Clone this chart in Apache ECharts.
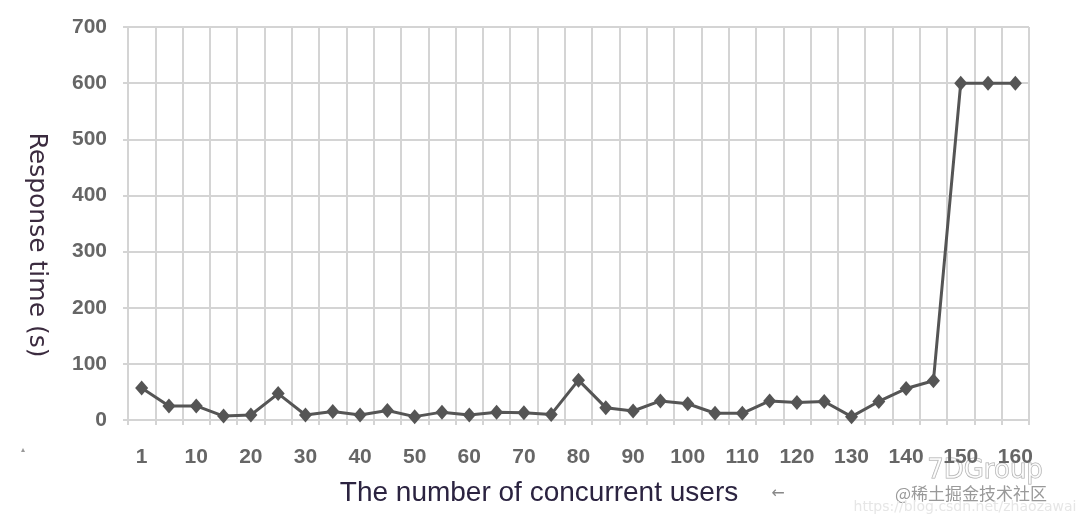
<!DOCTYPE html>
<html>
<head>
<meta charset="utf-8">
<script src="https://cdn.jsdelivr.net/npm/echarts@6/dist/echarts.min.js"></script>
<style>
html,body{margin:0;padding:0;background:#fff;}
#chart{width:1080px;height:521px;}
</style>
</head>
<body>
<div id="chart"></div>
<script>
const users = ['1','5','10','15','20','25','30','35','40','45','50','55','60','65','70','75','80','85','90','95','100','105','110','115','120','125','130','135','140','145','150','155','160'];
const responseTime = [57,25,25,7,9,47,9,15,9,17,6,14,9,14,13,10,71,22,16,34,29,12,12,34,31,33,6,33,56,70,600,600,600];
const yTicks = {min: 0, max: 700, interval: 100};
const xTitle = 'The number of concurrent users';
const yTitle = 'Response time (s)';

const chart = echarts.init(document.getElementById('chart'));
const labelStyle = {
  fontFamily: 'Liberation Sans, Arial, sans-serif',
  fontSize: 21,
  fontWeight: 'bold',
  color: '#666'
};
chart.setOption({
  animation: false,
  backgroundColor: '#fff',
  grid: {left: 128, right: 51, top: 27, bottom: 101},
  xAxis: {
    type: 'category',
    data: users,
    boundaryGap: true,
    axisLine: {show: false},
    axisTick: {show: true, length: 5, interval: 0, lineStyle: {color: '#d4d4d4', width: 2}},
    splitLine: {show: true, interval: 0, lineStyle: {color: '#d4d4d4', width: 2}},
    axisLabel: Object.assign({interval: 1, margin: 27}, labelStyle)
  },
  yAxis: {
    type: 'value',
    min: yTicks.min,
    max: yTicks.max,
    interval: yTicks.interval,
    axisLine: {show: false},
    axisTick: {show: true, length: 5, lineStyle: {color: '#d4d4d4', width: 2}},
    splitLine: {show: true, lineStyle: {color: '#d4d4d4', width: 2}},
    axisLabel: Object.assign({margin: 21}, labelStyle)
  },
  series: [{
    type: 'line',
    data: responseTime,
    symbol: 'diamond',
    symbolSize: [13, 15],
    itemStyle: {color: '#555'},
    lineStyle: {color: '#555', width: 3}
  }],
  graphic: [
    {type: 'text', x: 36, y: 245, rotation: -Math.PI / 2,
     style: {text: yTitle, fill: '#3b2b3f', font: '25px "DejaVu Sans", sans-serif', align: 'center', verticalAlign: 'middle'}},
    {type: 'text', x: 539, y: 493,
     style: {text: xTitle, fill: '#2b2340', font: '28px "Liberation Sans", sans-serif', align: 'center', verticalAlign: 'middle'}},
    {type: 'text', x: 778, y: 494,
     style: {text: '←', fill: '#888', font: '16px "DejaVu Sans", sans-serif', align: 'center', verticalAlign: 'middle'}},
    {type: 'text', x: 23, y: 450,
     style: {text: '▴', fill: '#999', font: '8px "DejaVu Sans", sans-serif', align: 'center', verticalAlign: 'middle'}},
    {type: 'text', x: 985, y: 471,
     style: {text: '7DGroup', fill: 'rgba(255,255,255,0.6)', stroke: '#aaa', lineWidth: 1, font: '26px "DejaVu Sans", sans-serif', align: 'center', verticalAlign: 'middle'}},
    {type: 'text', x: 971, y: 494,
     style: {text: '@稀土掘金技术社区', fill: '#999', font: '17px "Noto Sans CJK SC", sans-serif', align: 'center', verticalAlign: 'middle'}},
    {type: 'text', x: 965, y: 507,
     style: {text: 'https://blog.csdn.net/zhaozawai', fill: '#e6e6e6', font: '14px "DejaVu Sans", sans-serif', align: 'center', verticalAlign: 'middle'}}
  ]
});
</script>
</body>
</html>
